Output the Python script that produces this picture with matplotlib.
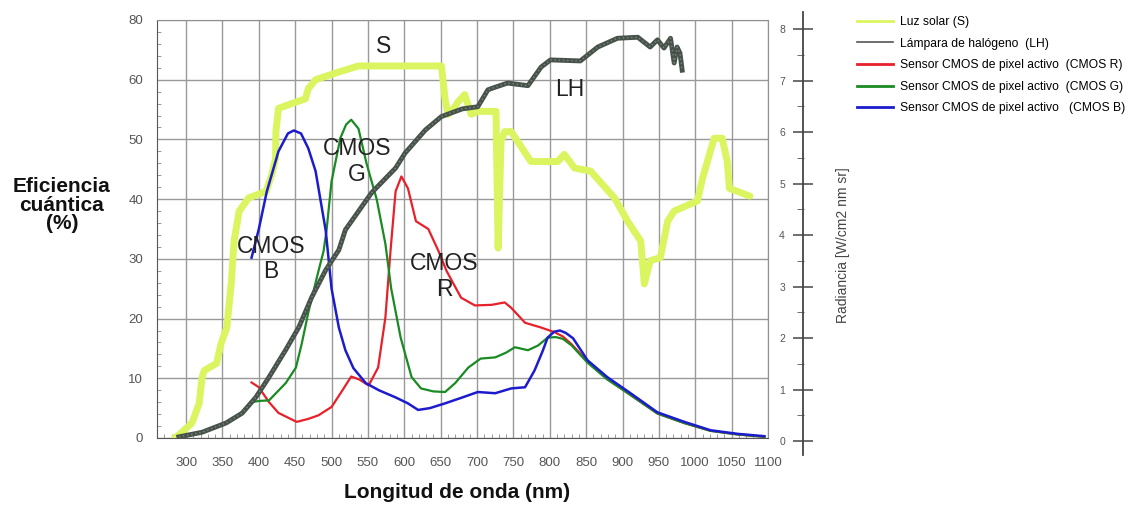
# espectros: eficiencia cuántica CMOS + luz solar + lámpara halógena

import matplotlib.pyplot as plt
from matplotlib.lines import Line2D
from matplotlib.ticker import MultipleLocator

plt.rcParams['font.family'] = ['Liberation Sans', 'DejaVu Sans']

# Luz solar (S), en unidades del eje izquierdo
nm_s = [284, 290, 308, 318, 322, 325, 342, 348, 356, 362, 366, 373, 386, 410, 418, 423, 423.5, 427,
        445, 464, 468, 478, 510, 537, 651, 656, 660, 665, 674, 683, 692, 701, 726, 729, 733, 738,
        747, 774, 811, 820, 834, 856, 889, 907, 925, 930, 938, 952, 962, 971, 1003, 1010, 1026,
        1037, 1044, 1047, 1058, 1075]
val_s = [0, 0.5, 2.5, 5.8, 10.2, 11.3, 12.5, 15.8, 18.5, 25.8, 33, 38, 40.2, 41.3, 44.2, 46.8, 51.3, 55.2,
         56, 56.8, 58.5, 60, 61.3, 62.3, 62.3, 56.8, 54.2, 54.7, 56.3, 57.5, 54.2, 54.7, 54.7, 31.8, 49.7, 51.3,
         51.3, 46.3, 46.3, 47.5, 45.2, 44.7, 40.2, 36.3, 33, 25.8, 29.7, 30.2, 36.3, 38, 39.7, 43.5, 50.2,
         50.2, 46.3, 41.8, 41.3, 40.5]

# Lámpara de halógeno (LH), radiancia
nm_lh = [290, 322, 355, 377, 396, 414, 437, 455, 473, 492, 510, 519, 555, 588, 601, 629, 651, 680,
         701, 715, 725, 742, 770, 788, 801, 842, 866, 893, 921, 938, 948, 957, 966, 971, 975, 979, 982]
val_lh = [0.08, 0.17, 0.35, 0.54, 0.85, 1.24, 1.77, 2.21, 2.8, 3.32, 3.71, 4.1, 4.82, 5.3, 5.59, 6.04, 6.3, 6.45,
          6.49, 6.82, 6.87, 6.95, 6.9, 7.26, 7.4, 7.38, 7.65, 7.82, 7.84, 7.65, 7.79, 7.63, 7.82, 7.34, 7.65, 7.53, 7.2]

# CMOS R
nm_r = [390, 400, 414, 427, 452, 468, 482, 500, 515, 527, 538, 551, 564, 574, 581, 588, 596, 605, 616,
        633, 647, 658, 678, 697, 720, 738, 747, 766, 788, 807, 818, 830, 852, 879, 911, 948, 985, 1021, 1058, 1095]
val_r = [9.3, 8.5, 6, 4.2, 2.7, 3.2, 3.8, 5.2, 8, 10.3, 9.8, 8.8, 11.8, 20.2, 31.3, 41.3, 43.8, 41.8, 36.3,
         35, 31.3, 28, 23.5, 22.2, 22.3, 22.7, 21.8, 19.3, 18.5, 17.7, 17.0, 15.7, 12.8, 9.9, 7.2, 4.1, 2.5, 1.2, 0.6, 0.2]

# CMOS G
nm_g = [390, 400, 414, 437, 451, 459, 468, 480, 489, 493, 500, 512, 520, 527, 537, 548, 562, 574, 582,
        595, 610, 623, 640, 656, 670, 688, 705, 725, 740, 752, 770, 784, 797, 808, 818, 830, 852, 879, 911,
        948, 985, 1021, 1058, 1095]
val_g = [6, 6.2, 6.3, 9.2, 11.8, 15.8, 21, 27, 31.3, 34.7, 43, 50.2, 52.5, 53.3, 51.8, 46, 40, 32.5, 25,
         16.8, 10.2, 8.3, 7.8, 7.7, 9.2, 11.8, 13.3, 13.5, 14.3, 15.2, 14.7, 15.5, 16.8, 16.9, 16.6, 15.5, 12.6, 9.8, 7.2,
         4.1, 2.5, 1.2, 0.6, 0.2]

# CMOS B
nm_b = [390, 400, 411, 427, 440, 448, 458, 468, 478, 492, 500, 510, 519, 530, 547, 565, 588, 605, 619,
        635, 656, 680, 701, 725, 747, 766, 779, 790, 797, 806, 814, 822, 832, 852, 879, 911, 948, 985,
        1021, 1058, 1095]
val_b = [30.2, 35, 41.3, 48, 51, 51.5, 51, 48.5, 44.7, 34.7, 25, 18.5, 14.7, 11.7, 9.2, 8, 6.8, 5.8, 4.7,
         5.0, 5.8, 6.8, 7.7, 7.5, 8.3, 8.5, 11.3, 14.5, 16.8, 17.8, 18, 17.6, 16.7, 13, 10.2, 7.5, 4.3, 2.7,
         1.3, 0.7, 0.3]

xticks = list(range(300, 1101, 50))
yticks = [0, 10, 20, 30, 40, 50, 60, 70]
ylabels = ['0', '10', '20', '30', '40', '50', '60', '80']
rticks = [0, 1, 2, 3, 4, 5, 6, 7, 8]

fig = plt.figure(figsize=(11.28, 5.07), dpi=100)
W, H = 1128, 507
ax = fig.add_axes([157 / W, 1 - 438 / H, (768 - 157) / W, (438 - 20) / H])

ax.set_xlim(260, 1100)
ax.set_ylim(0, 70)
ax.set_xticks(xticks)
ax.set_yticks(yticks)
ax.set_yticklabels(ylabels)
ax.xaxis.set_minor_locator(MultipleLocator(10))
ax.yaxis.set_minor_locator(MultipleLocator(2))
ax.grid(True, which='major', color='#999999', lw=1)
ax.tick_params(which='major', length=0, labelsize=9.5, labelcolor='#555555')
ax.tick_params(axis='x', which='major', pad=14)
ax.tick_params(axis='y', which='major', pad=10)
ax.tick_params(which='minor', direction='in', length=3, color='#888888')
for s in ax.spines.values():
    s.set_color('#909090')
ax.spines['left'].set_color('#555555')
ax.spines['bottom'].set_color('#555555')

ax.plot(nm_s, val_s, color='#daf55f', lw=5, solid_joinstyle='round', solid_capstyle='round', zorder=3)
ax.plot(nm_r, val_r, color='#e8202a', lw=1.6, zorder=5)
ax.plot(nm_g, val_g, color='#1a8a22', lw=1.6, zorder=5)
ax.plot(nm_b, val_b, color='#1c1ccc', lw=1.8, zorder=6)

# LH sobre un eje gemelo escalado como el eje de radiancia
ax2 = ax.twinx()
ax2.set_ylim((441 - 438) / 51.5, (441 - 20) / 51.5)
ax2.axis('off')
ax2.plot(nm_lh, val_lh, color='#46524a', lw=3.5, solid_joinstyle='round', zorder=4)
ax2.plot(nm_lh, val_lh, color='#7d877f', lw=1, dashes=(1, 2), zorder=4)

# eje de radiancia separado
ax3 = fig.add_axes([803 / W, 1 - 455 / H, 0.001, (455 - 12) / H])
ax3.set_ylim((441 - 455) / 51.5, (441 - 12) / 51.5)
ax3.set_xticks([])
for k in ['top', 'right', 'bottom']:
    ax3.spines[k].set_visible(False)
ax3.spines['left'].set_color('#444444')
ax3.spines['left'].set_linewidth(1.3)
ax3.set_yticks(rticks)
ax3.yaxis.set_minor_locator(MultipleLocator(0.5))
ax3.tick_params(which='major', direction='inout', length=14, color='#555555', width=1.2,
                labelsize=7.5, labelcolor='#555555', pad=6)
ax3.tick_params(which='minor', left=False, right=True, direction='in', length=5, color='#555555')
ax3.patch.set_visible(False)
fig.text(843 / W, 1 - 245 / H, 'Radiancia [W/cm2 nm sr]', rotation=90, ha='center', va='center',
         fontsize=10, color='#444444')

# etiquetas de las curvas
big = dict(fontsize=16.5, color='#222222', ha='center', va='center', zorder=8, linespacing=1.15)
ax.text(572, 65.5, 'S', **big)
ax.text(827, 58.3, 'LH', **big)
ax.text(535, 46.3, 'CMOS\nG', **big)
ax.text(417, 30, 'CMOS\nB', **big)
ax.text(655, 27, 'CMOS\nR', **big)

fig.text(62 / W, 1 - 205 / H, 'Eficiencia\ncuántica\n(%)', ha='center', va='center',
         fontsize=15, fontweight='bold', linespacing=0.95, color='#111111')
fig.text(457 / W, 1 - 493 / H, 'Longitud de onda (nm)', ha='center', va='center',
         fontsize=15, fontweight='bold', color='#111111')

handles = [Line2D([], [], color='#daf55f', lw=2),
           Line2D([], [], color='#555555', lw=1.2),
           Line2D([], [], color='#e8202a', lw=2),
           Line2D([], [], color='#1a8a22', lw=2),
           Line2D([], [], color='#1c1ccc', lw=2)]
labels = ['Luz solar (S)',
          'Lámpara de halógeno  (LH)',
          'Sensor CMOS de pixel activo  (CMOS R)',
          'Sensor CMOS de pixel activo  (CMOS G)',
          'Sensor CMOS de pixel activo   (CMOS B)']
fig.legend(handles, labels, loc='upper left', bbox_to_anchor=(852 / W, 1 - 11 / H), frameon=False,
           fontsize=8.7, handlelength=3, labelspacing=0.8, handletextpad=0.6, borderaxespad=0)

fig.savefig('out.png', dpi=100)
